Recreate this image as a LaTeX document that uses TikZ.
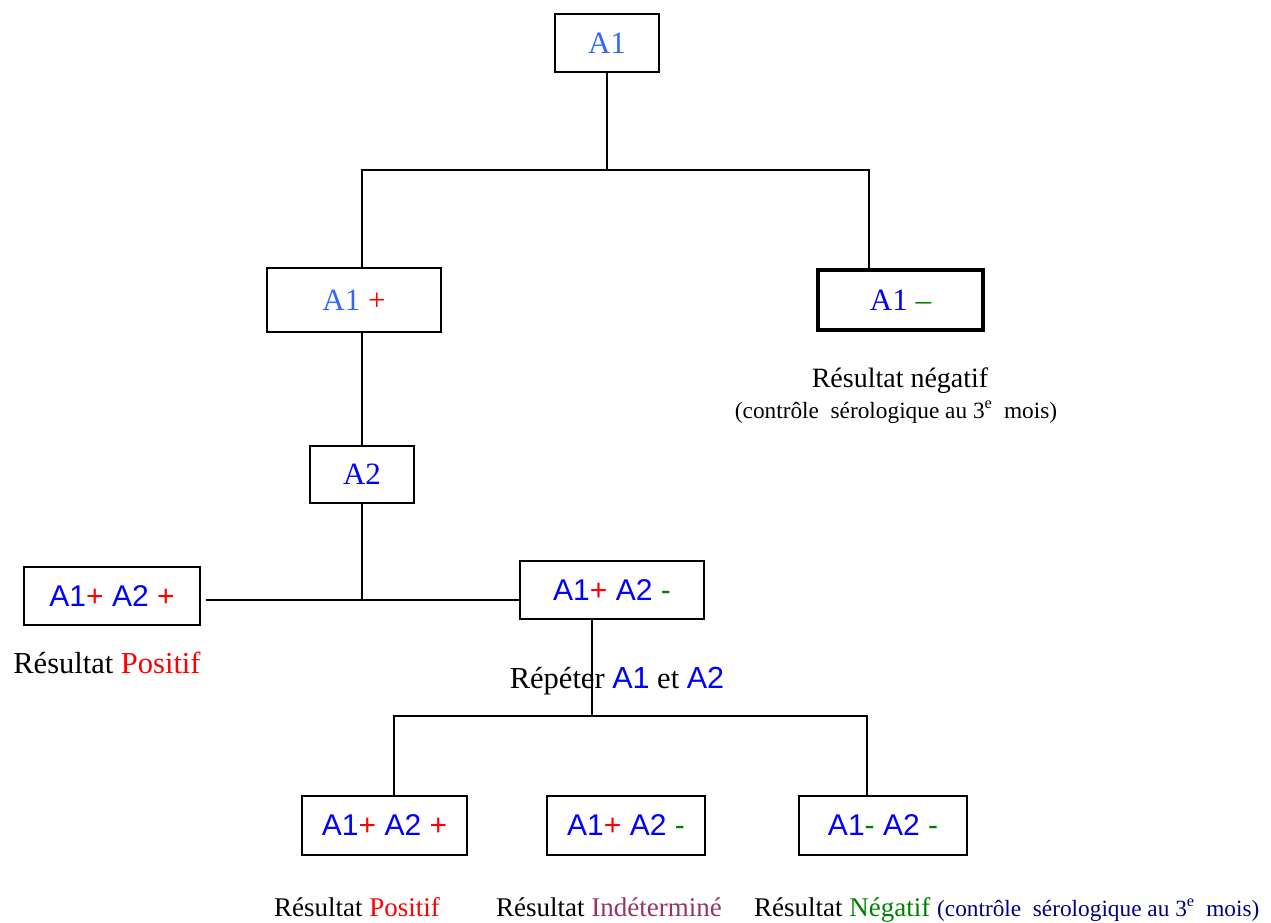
\documentclass[tikz,border=0pt]{standalone}
\usepackage{fontspec}
\setmainfont{Liberation Serif}
\newfontfamily\arialf{Liberation Sans}
\definecolor{lblue}{HTML}{3366FF}
\definecolor{dblue}{HTML}{0000FF}
\definecolor{dred}{HTML}{FF0000}
\definecolor{dgreen}{HTML}{008000}
\definecolor{purp}{HTML}{993366}
\definecolor{navy}{HTML}{000080}
\begin{document}
\begin{tikzpicture}[x=1pt,y=-1pt,
  box/.style={draw,line width=1.5pt,inner sep=0pt,minimum height=58pt},
  conn/.style={line width=1.2pt},
  lbl/.style={inner sep=0pt,anchor=base},
  tf/.style={font=\fontsize{31}{35}\selectfont},
  af/.style={font=\arialf\fontsize{30}{34}\selectfont}]
\useasboundingbox (0,0) rectangle (1271,923);
% boxes
\node[box,tf,minimum width=104pt] (top) at (607,43) {\color{lblue}A1};
\node[box,tf,minimum width=174pt,minimum height=64pt] (a1p) at (354,300) {\color{lblue}A1 \color{dred}+};
\node[box,tf,line width=4pt,minimum width=165pt,minimum height=60pt] (a1m) at (900.5,300) {\color{dblue}A1 \color{dgreen}--};
\node[box,tf,minimum width=104pt,minimum height=57pt] (a2) at (362,474.5) {\color{dblue}A2};
\node[box,af,minimum width=176pt] (lp) at (112,596) {\color{dblue}A1\color{dred}+ \color{dblue}A2 \color{dred}+};
\node[box,af,minimum width=184pt] (rp) at (612,590) {\color{dblue}A1\color{dred}+ \color{dblue}A2 \color{dgreen}-};
\node[box,af,minimum width=165pt,minimum height=59pt] (b1) at (384.5,825.5) {\color{dblue}A1\color{dred}+ \color{dblue}A2 \color{dred}+};
\node[box,af,minimum width=158pt,minimum height=59pt] (b2) at (626,825.5) {\color{dblue}A1\color{dred}+ \color{dblue}A2 \color{dgreen}-};
\node[box,af,minimum width=168pt,minimum height=59pt] (b3) at (883,825.5) {\color{dblue}A1\color{dgreen}- \color{dblue}A2 \color{dgreen}-};
% junction coordinates
\coordinate (j0) at (607,170);
\coordinate (j1l) at (362,170);
\coordinate (j1r) at (869,170);
\coordinate (j2) at (362,600);
\coordinate (j3) at (592,716);
\coordinate (j3l) at (394,716);
\coordinate (j3r) at (867,716);
% connectors
\draw[conn] (top.south) -- (j0);
\draw[conn] (j1l |- a1p.north) -- (j1l) -- (j1r) -- (j1r |- a1m.north);
\draw[conn] (a2.north) -- (a2.north |- a1p.south);
\draw[conn] (a2.south) -- (j2);
\draw[conn] ([xshift=5pt]lp.east |- j2) -- (rp.west |- j2);
\draw[conn] (j3 |- rp.south) -- (j3);
\draw[conn] (j3l |- b1.north) -- (j3l) -- (j3r) -- (j3r |- b3.north);
% labels
\node[lbl] (t1) at (900,387) {\fontsize{28}{32}\selectfont Résultat négatif};
\node[lbl] (t2) at (896,418) {\fontsize{23.3}{26}\selectfont (contrôle\ \ sérologique au 3\textsuperscript{e}\ \ mois)};
\node[lbl] (t3) at (107,673) {\fontsize{30.5}{34}\selectfont Résultat \color{dred}Positif};
\node[lbl] (t4) at (617,688) {\fontsize{30.5}{34}\selectfont Répéter {\arialf\color{dblue}A1} et {\arialf\color{dblue}A2}};
\node[lbl] (t5) at (357,916) {\fontsize{27}{31}\selectfont Résultat \color{dred}Positif};
\node[lbl] (t6) at (609,916) {\fontsize{27}{31}\selectfont Résultat \color{purp}Indéterminé};
\node[lbl,anchor=base west] (t7) at (754,916) {\fontsize{27}{31}\selectfont Résultat {\color{dgreen}Négatif} {\fontsize{23.3}{26}\selectfont\color{navy}(contrôle\ \ sérologique au 3\textsuperscript{e}\ \ mois)}};
\end{tikzpicture}
\end{document}
